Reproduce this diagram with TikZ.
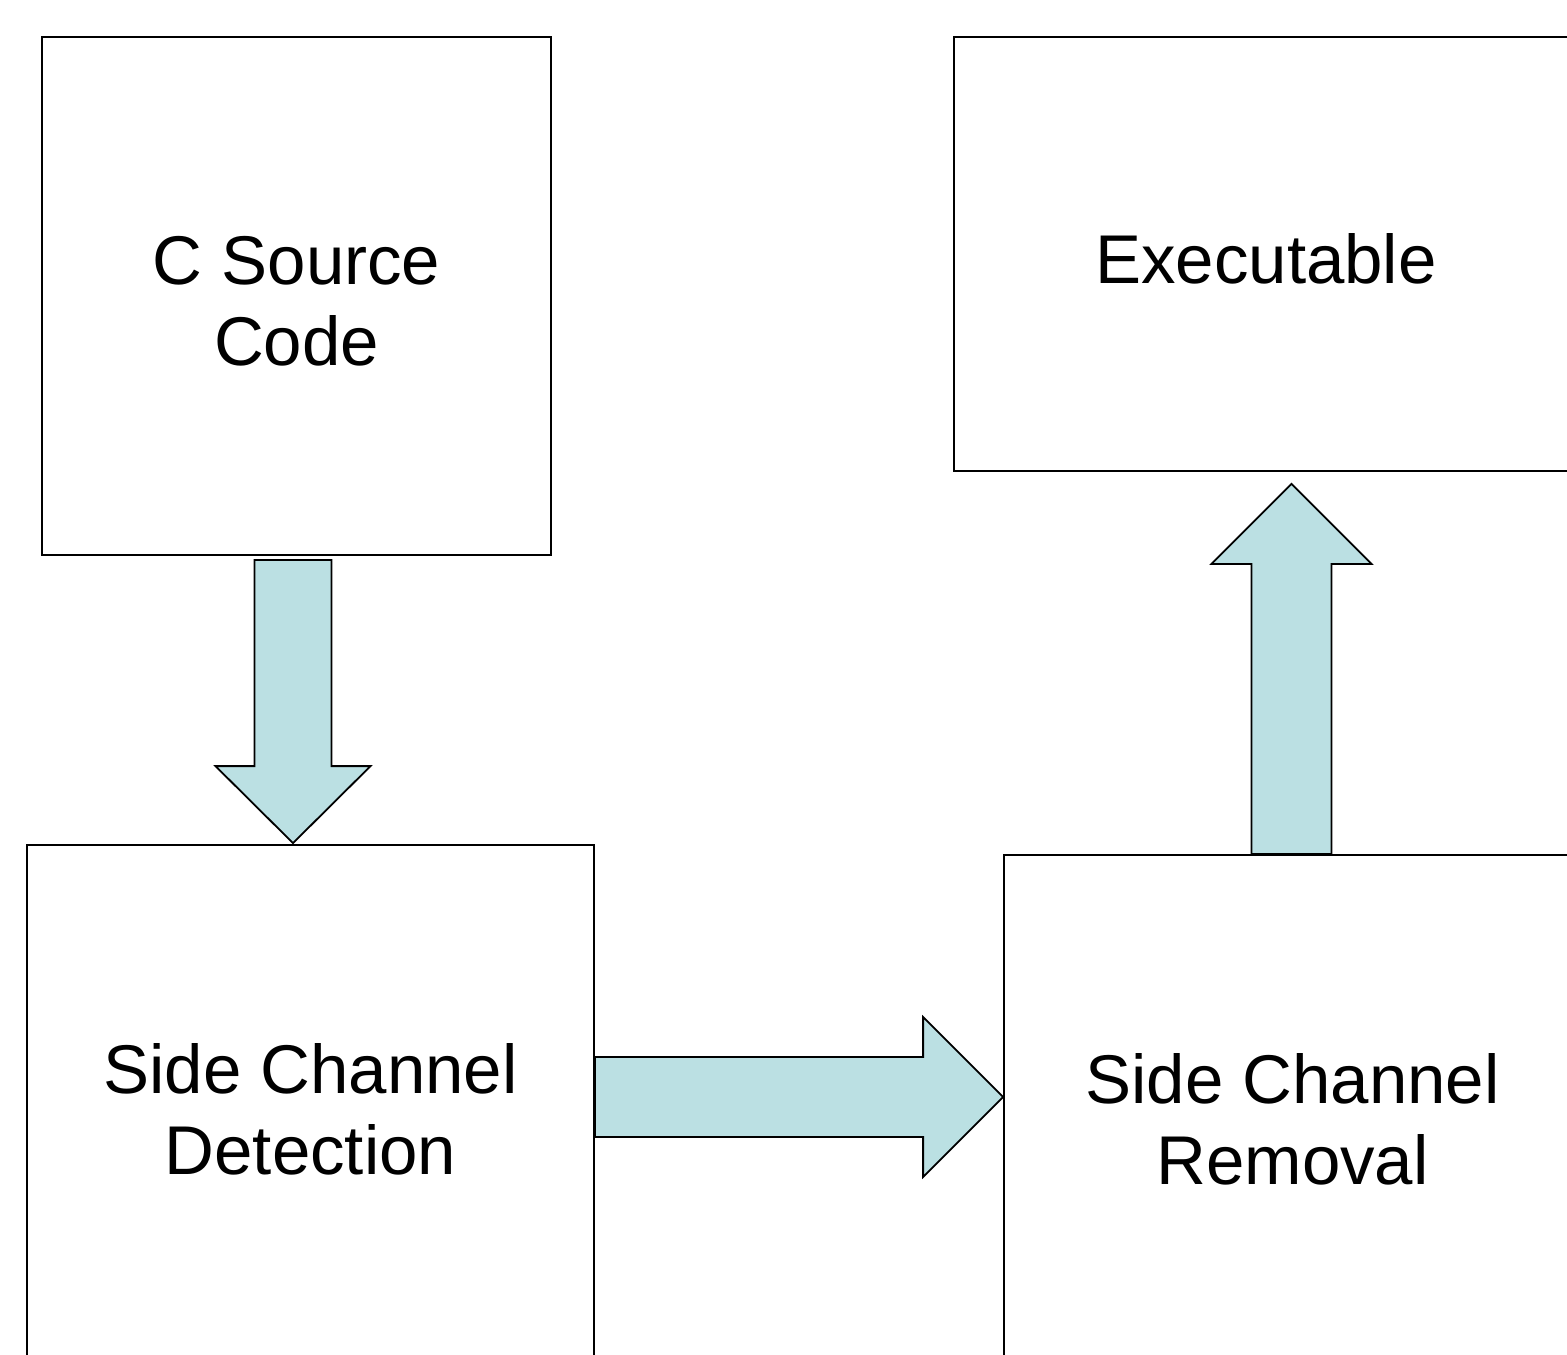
\documentclass[tikz,border=0pt]{standalone}
\usepackage{fontspec}
\setmainfont{Liberation Sans}
\usetikzlibrary{calc,backgrounds}

\begin{document}
\begin{tikzpicture}[x=0.5pt, y=-0.5pt,
    box/.style={rectangle, draw=black, line width=0.9pt, inner sep=0pt, align=center, font=\fontsize{34.5}{40.5}\selectfont},
    flowarrow/.style={draw=black, line width=0.9pt, fill=arrowfill, line join=miter}]
\definecolor{arrowfill}{HTML}{BBE0E3}
\useasboundingbox (0,0) rectangle (1567,1354);

% Stage nodes
\node[box, minimum width=254.5pt, minimum height=259pt] (source) at (296.5,296) {\rule{0pt}{29.3pt}C Source\\Code};
\node[box, minimum width=312pt, minimum height=217pt] (exe) at (1266,254) {\rule{0pt}{30pt}Executable};
\node[box, minimum width=283.5pt, minimum height=264.5pt] (detect) at (310.5,1109.5) {Side Channel\\Detection};
\node[box, minimum width=288.5pt, minimum height=264pt] (removal) at (1292.5,1119) {Side Channel\\Removal};

% Arrow end points
\coordinate (d1) at ($(source.south)+(-3.5,4)$);
\coordinate (d2) at ($(detect.north -| d1)+(0,-1)$);
\coordinate (r1) at ($(detect.east)+(0,-12.5)$);
\coordinate (r2) at (removal.west |- r1);
\coordinate (u1) at ($(removal.north)+(-1,0)$);
\coordinate (u2) at ($(exe.south -| u1)+(0,12)$);

% Block arrows, each from its tip round
\begin{scope}[on background layer]
\draw[flowarrow] (d2) -- ++(-77.5,-77) -- ++(39,0) |- ($(d1)+(0,0)$) -| ($(d2)+(38.5,-77)$) -- ++(39,0) -- cycle;
\draw[flowarrow] (r2) -- ++(-80,-80) -- ++(0,40) -| ($(r1)+(0,0)$) |- ($(r2)+(-80,40)$) -- ++(0,40) -- cycle;
\draw[flowarrow] (u2) -- ++(-80,80) -- ++(40,0) |- (u1) -| ($(u2)+(40,80)$) -- ++(40,0) -- cycle;
\end{scope}

\end{tikzpicture}
\end{document}
